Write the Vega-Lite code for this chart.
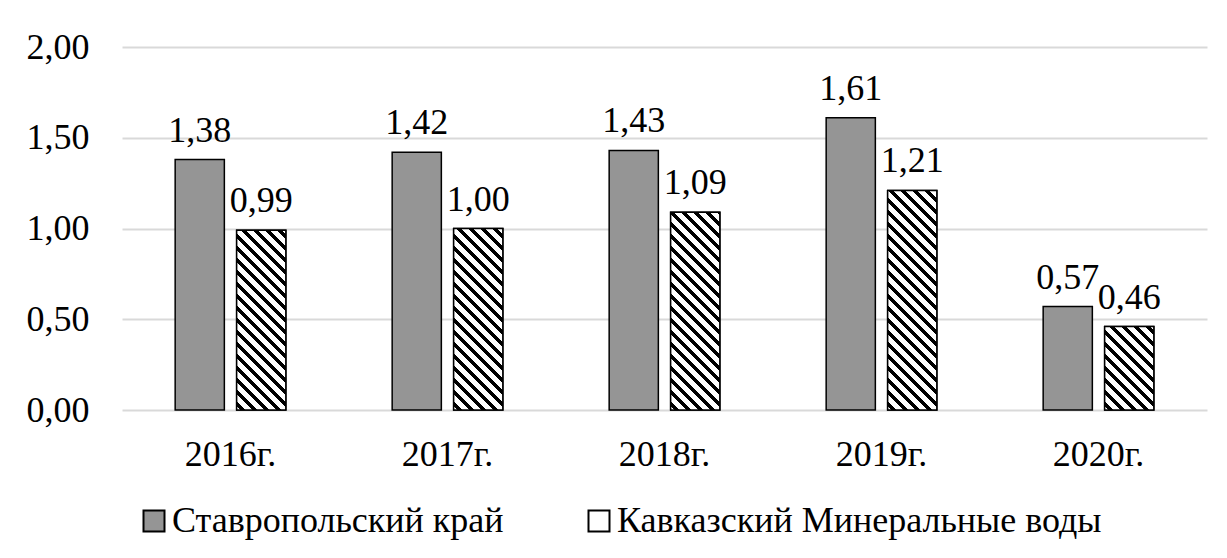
{
  "$schema": "https://vega.github.io/schema/vega-lite/v6.json",
  "autosize": {"type": "none"},
  "width": 1085,
  "height": 363,
  "padding": {"left": 122, "top": 47, "right": 20, "bottom": 148},
  "background": "white",
  "config": {
    "view": {"stroke": null},
    "locale": {"number": {"decimal": ",", "thousands": " ", "grouping": [3], "currency": ["", ""]}}
  },
  "params": [
    {"name": "stripes", "value": [
      {"offset":0,"color":"#fff"},
      {"offset":0.0133,"color":"#fff"},{"offset":0.0133,"color":"#000"},{"offset":0.03,"color":"#000"},{"offset":0.03,"color":"#fff"},
      {"offset":0.0533,"color":"#fff"},{"offset":0.0533,"color":"#000"},{"offset":0.07,"color":"#000"},{"offset":0.07,"color":"#fff"},
      {"offset":0.0933,"color":"#fff"},{"offset":0.0933,"color":"#000"},{"offset":0.11,"color":"#000"},{"offset":0.11,"color":"#fff"},
      {"offset":0.1333,"color":"#fff"},{"offset":0.1333,"color":"#000"},{"offset":0.15,"color":"#000"},{"offset":0.15,"color":"#fff"},
      {"offset":0.1733,"color":"#fff"},{"offset":0.1733,"color":"#000"},{"offset":0.19,"color":"#000"},{"offset":0.19,"color":"#fff"},
      {"offset":0.2133,"color":"#fff"},{"offset":0.2133,"color":"#000"},{"offset":0.23,"color":"#000"},{"offset":0.23,"color":"#fff"},
      {"offset":0.2533,"color":"#fff"},{"offset":0.2533,"color":"#000"},{"offset":0.27,"color":"#000"},{"offset":0.27,"color":"#fff"},
      {"offset":0.2933,"color":"#fff"},{"offset":0.2933,"color":"#000"},{"offset":0.31,"color":"#000"},{"offset":0.31,"color":"#fff"},
      {"offset":0.3333,"color":"#fff"},{"offset":0.3333,"color":"#000"},{"offset":0.35,"color":"#000"},{"offset":0.35,"color":"#fff"},
      {"offset":0.3733,"color":"#fff"},{"offset":0.3733,"color":"#000"},{"offset":0.39,"color":"#000"},{"offset":0.39,"color":"#fff"},
      {"offset":0.4133,"color":"#fff"},{"offset":0.4133,"color":"#000"},{"offset":0.43,"color":"#000"},{"offset":0.43,"color":"#fff"},
      {"offset":0.4533,"color":"#fff"},{"offset":0.4533,"color":"#000"},{"offset":0.47,"color":"#000"},{"offset":0.47,"color":"#fff"},
      {"offset":0.4933,"color":"#fff"},{"offset":0.4933,"color":"#000"},{"offset":0.51,"color":"#000"},{"offset":0.51,"color":"#fff"},
      {"offset":0.5333,"color":"#fff"},{"offset":0.5333,"color":"#000"},{"offset":0.55,"color":"#000"},{"offset":0.55,"color":"#fff"},
      {"offset":0.5733,"color":"#fff"},{"offset":0.5733,"color":"#000"},{"offset":0.59,"color":"#000"},{"offset":0.59,"color":"#fff"},
      {"offset":0.6133,"color":"#fff"},{"offset":0.6133,"color":"#000"},{"offset":0.63,"color":"#000"},{"offset":0.63,"color":"#fff"},
      {"offset":0.6533,"color":"#fff"},{"offset":0.6533,"color":"#000"},{"offset":0.67,"color":"#000"},{"offset":0.67,"color":"#fff"},
      {"offset":0.6933,"color":"#fff"},{"offset":0.6933,"color":"#000"},{"offset":0.71,"color":"#000"},{"offset":0.71,"color":"#fff"},
      {"offset":0.7333,"color":"#fff"},{"offset":0.7333,"color":"#000"},{"offset":0.75,"color":"#000"},{"offset":0.75,"color":"#fff"},
      {"offset":0.7733,"color":"#fff"},{"offset":0.7733,"color":"#000"},{"offset":0.79,"color":"#000"},{"offset":0.79,"color":"#fff"},
      {"offset":0.8133,"color":"#fff"},{"offset":0.8133,"color":"#000"},{"offset":0.83,"color":"#000"},{"offset":0.83,"color":"#fff"},
      {"offset":0.8533,"color":"#fff"},{"offset":0.8533,"color":"#000"},{"offset":0.87,"color":"#000"},{"offset":0.87,"color":"#fff"},
      {"offset":0.8933,"color":"#fff"},{"offset":0.8933,"color":"#000"},{"offset":0.91,"color":"#000"},{"offset":0.91,"color":"#fff"},
      {"offset":0.9333,"color":"#fff"},{"offset":0.9333,"color":"#000"},{"offset":0.95,"color":"#000"},{"offset":0.95,"color":"#fff"},
      {"offset":0.9733,"color":"#fff"},{"offset":0.9733,"color":"#000"},{"offset":0.99,"color":"#000"},{"offset":0.99,"color":"#fff"},
      {"offset":1,"color":"#fff"}
    ]},
    {"name": "legstripes", "value": [
      {"offset":0,"color":"#fff"},
      {"offset":0.3,"color":"#fff"},{"offset":0.3,"color":"#000"},{"offset":0.7,"color":"#000"},{"offset":0.7,"color":"#fff"},
      {"offset":1,"color":"#fff"}
    ]}
  ],
  "data": {"values": [
    {"year": "2016г.", "region": "Ставропольский край", "value": 1.38},
    {"year": "2016г.", "region": "Кавказский Минеральные воды", "value": 0.99},
    {"year": "2017г.", "region": "Ставропольский край", "value": 1.42},
    {"year": "2017г.", "region": "Кавказский Минеральные воды", "value": 1.00},
    {"year": "2018г.", "region": "Ставропольский край", "value": 1.43},
    {"year": "2018г.", "region": "Кавказский Минеральные воды", "value": 1.09},
    {"year": "2019г.", "region": "Ставропольский край", "value": 1.61},
    {"year": "2019г.", "region": "Кавказский Минеральные воды", "value": 1.21},
    {"year": "2020г.", "region": "Ставропольский край", "value": 0.57},
    {"year": "2020г.", "region": "Кавказский Минеральные воды", "value": 0.46}
  ]},
  "encoding": {
    "x": {"field": "year", "type": "nominal", "sort": null,
      "scale": {"paddingInner": 0.49, "paddingOuter": 0.245},
      "axis": {"title": null, "labelAngle": 0, "labelFont": "Liberation Serif", "labelFontSize": 36, "labelColor": "#000", "labelBaseline": "alphabetic", "labelPadding": 55, "ticks": false, "tickSize": 0, "domain": false, "grid": false}},
    "xOffset": {"field": "region", "type": "nominal", "sort": ["Ставропольский край", "Кавказский Минеральные воды"],
      "scale": {"paddingInner": 0.2, "paddingOuter": 0}},
    "y": {"field": "value", "type": "quantitative",
      "scale": {"domain": [0, 2], "nice": false},
      "axis": {"title": null, "values": [0, 0.5, 1, 1.5, 2], "format": ".2f", "labelFont": "Liberation Serif", "labelFontSize": 36, "labelColor": "#000", "labelPadding": 33, "ticks": false, "tickSize": 0, "domain": false, "grid": true, "gridColor": "#d9d9d9", "gridWidth": 2}}
  },
  "layer": [
    {
      "mark": {"type": "bar", "stroke": "#000", "strokeWidth": 1.5},
      "encoding": {
        "fill": {"field": "region", "type": "nominal", "sort": ["Ставропольский край", "Кавказский Минеральные воды"],
          "scale": {"range": ["#959595", "#ffffff"]},
          "legend": {"title": null, "orient": "none", "legendX": 14, "legendY": 456, "direction": "horizontal",
            "labelFont": "Liberation Serif", "labelFontSize": 36, "labelColor": "#000", "labelLimit": 800, "labelOffset": 0,
            "symbolType": "square", "symbolSize": 441, "symbolStrokeColor": "#000", "symbolStrokeWidth": 2, "symbolOpacity": 1,
            "columnPadding": 77,
            "encode": {"symbols": {
              "stroke": {"value": "#000"},
              "strokeWidth": {"value": 2},
              "opacity": {"value": 1},
              "fill": {"signal": "datum.value === 'Кавказский Минеральные воды' ? {gradient: 'linear', x1: 0, y1: 1, x2: 1, y2: 0, stops: legstripes} : '#959595'"},
              "update": {
                "stroke": {"value": "#000"},
                "strokeWidth": {"value": 2},
                "opacity": {"value": 1},
                "fill": {"signal": "datum.value === 'Кавказский Минеральные воды' ? {gradient: 'linear', x1: 0, y1: 1, x2: 1, y2: 0, stops: legstripes} : '#959595'"}
              }
            }}
          }}
      }
    },
    {
      "transform": [{"filter": "datum.region === 'Кавказский Минеральные воды'"}],
      "mark": {"type": "bar", "stroke": "#000", "strokeWidth": 1.5},
      "encoding": {
        "fill": {"value": {"expr": "{gradient: 'linear', x1: 0, y1: 1, x2: bandwidth('xOffset')*300/(bandwidth('xOffset')*bandwidth('xOffset')+pow(scale('y',0)-scale('y',datum.value),2)), y2: 1-(scale('y',0)-scale('y',datum.value))*300/(bandwidth('xOffset')*bandwidth('xOffset')+pow(scale('y',0)-scale('y',datum.value),2)), stops: stripes}"}}
      }
    },
    {
      "mark": {"type": "text", "font": "Liberation Serif", "fontSize": 36, "color": "#000", "baseline": "alphabetic", "dy": -18},
      "encoding": {
        "text": {"field": "value", "type": "quantitative", "format": ".2f"}
      }
    }
  ]
}
